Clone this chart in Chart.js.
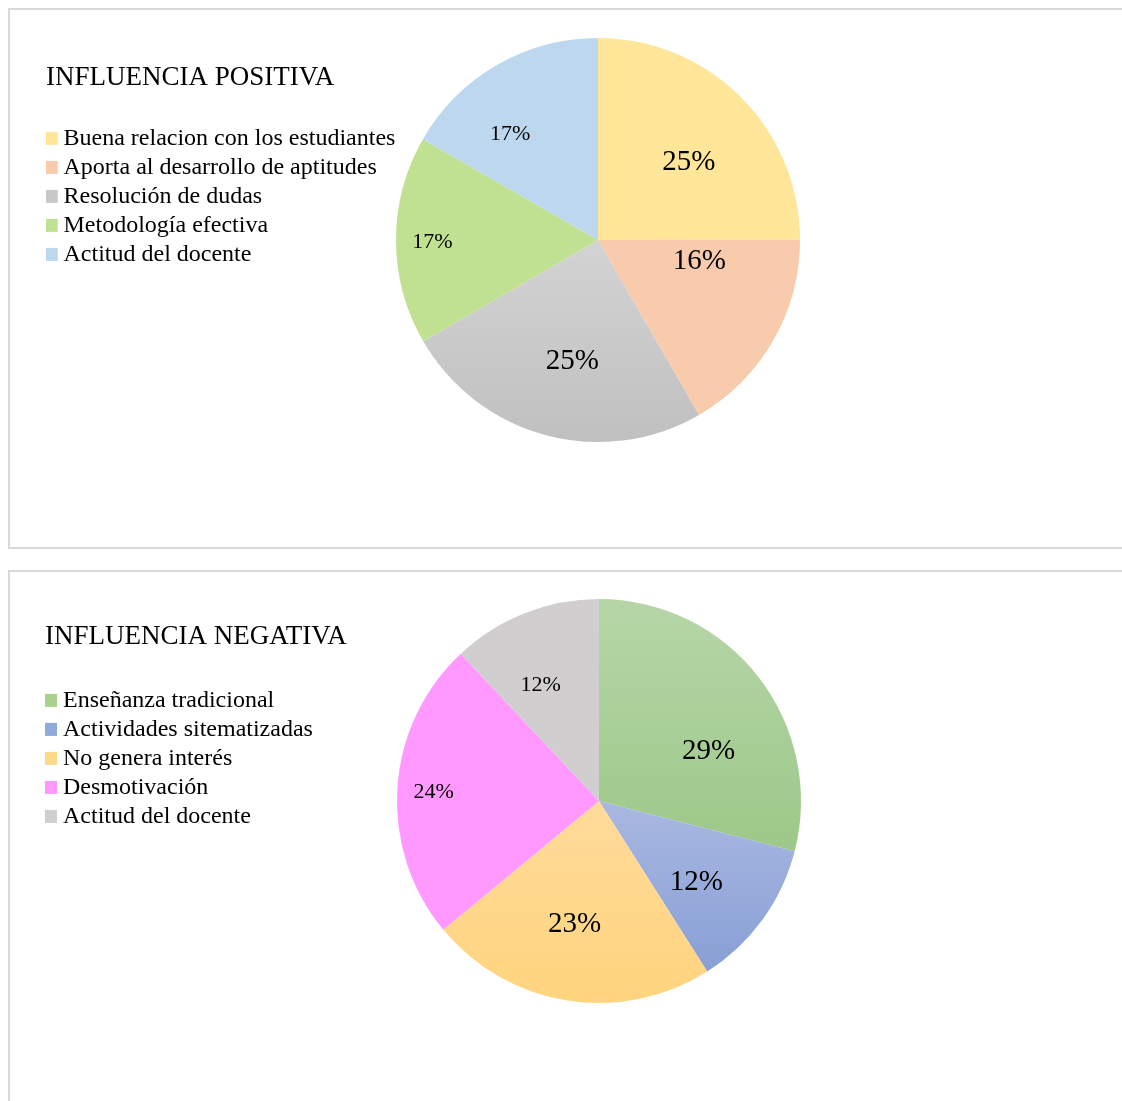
<!DOCTYPE html>
<html>
<head>
<meta charset="utf-8">
<script src="https://cdn.jsdelivr.net/npm/chart.js@4"></script>
<style>
  html, body { margin: 0; padding: 0; background: #ffffff; overflow: hidden; }
  #page { position: relative; width: 1122px; height: 1101px; overflow: hidden; background: #fff; }
  .panel { position: absolute; border: 2px solid #d9d9d9; box-sizing: border-box; background: #fff; }
  #panel1 { left: 8px; top: 8px; width: 1200px; height: 541px; }
  #panel2 { left: 8px; top: 570px; width: 1200px; height: 600px; }
  canvas { position: absolute; }
  #c1 { left: 0; top: 0; }
  #c2 { left: 0; top: 560px; }
</style>
</head>
<body>
<div id="page">
  <div class="panel" id="panel1"></div>
  <div class="panel" id="panel2"></div>
  <canvas id="c1" width="1200" height="560"></canvas>
  <canvas id="c2" width="1200" height="541"></canvas>
</div>
<script>
// ---------- DATA ----------
const posTitle = 'INFLUENCIA POSITIVA';
const posLabels = ['Buena relacion con los estudiantes', 'Aporta al desarrollo de aptitudes', 'Resolución de dudas', 'Metodología efectiva', 'Actitud del docente'];
const posValues = [25, 16.7, 25, 16.7, 16.7];
const posPercentText = ['25%', '16%', '25%', '17%', '17%'];

const negTitle = 'INFLUENCIA NEGATIVA';
const negLabels = ['Enseñanza tradicional', 'Actividades sitematizadas', 'No genera interés', 'Desmotivación', 'Actitud del docente'];
const negValues = [29, 12, 23, 24, 12];
const negPercentText = ['29%', '12%', '23%', '24%', '12%'];

// ---------- STYLES ----------
const posFill = [['#FFE699', '#FFE699'], ['#F8CBAD', '#F8CBAD'], ['#D3D3D3', '#C0C0C0'], ['#C0E191', '#C0E191'], ['#BDD7EE', '#BDD7EE']];
const posLegendFill = ['#FFE699', '#F8CBAD', '#C8C8C8', '#C0E191', '#BDD7EE'];
const negFill = [['#B6D6A7', '#9DC889'], ['#A9B8E0', '#889FD6'], ['#FFDB9A', '#FFD47E'], ['#FF99FF', '#FF99FF'], ['#D0CECE', '#D0CECE']];
const negLegendFill = ['#A9D18E', '#8FAADC', '#FFD98A', '#FF99FF', '#D0CECE'];

// label placement within each slice: fraction along the arc, fraction of radius, font size
const posLabelPos = [[0.54, 0.60, 29], [0.18, 0.51, 29], [0.47, 0.60, 29], [0.50, 0.82, 22], [0.35, 0.69, 22]];
const negLabelPos = [[0.62, 0.60, 29], [0.57, 0.62, 29], [0.53, 0.61, 29], [0.50, 0.82, 22], [0.39, 0.65, 22]];

const FONT = "'Liberation Serif', 'Times New Roman', serif";

function sliceGradient(ctx, fills, values) {
  const chart = ctx.chart;
  const area = chart.chartArea;
  const i = ctx.dataIndex;
  const pair = fills[i];
  if (!area || pair[0] === pair[1]) return pair[0];
  const cx = (area.left + area.right) / 2, cy = (area.top + area.bottom) / 2;
  const R = Math.min(area.right - area.left, area.bottom - area.top) / 2;
  const total = values.reduce((a, b) => a + b, 0);
  let cum = 0;
  for (let k = 0; k < i; k++) cum += values[k];
  const a0 = -Math.PI / 2 + 2 * Math.PI * cum / total;
  const a1 = a0 + 2 * Math.PI * values[i] / total;
  let ys = [cy, cy + R * Math.sin(a0), cy + R * Math.sin(a1)];
  const within = (a) => { for (let k = -2; k <= 2; k++) { const t = a + 2 * Math.PI * k; if (t >= a0 && t <= a1) return true; } return false; };
  if (within(-Math.PI / 2)) ys.push(cy - R);
  if (within(Math.PI / 2)) ys.push(cy + R);
  const y0 = Math.min(...ys), y1 = Math.max(...ys);
  const g = chart.ctx.createLinearGradient(0, y0, 0, y1);
  g.addColorStop(0, pair[0]);
  g.addColorStop(1, pair[1]);
  return g;
}

const pctLabels = {
  id: 'pctLabels',
  afterDatasetsDraw(chart, args, opts) {
    const meta = chart.getDatasetMeta(0);
    const ctx = chart.ctx;
    ctx.save();
    ctx.fillStyle = '#000';
    ctx.textAlign = 'center';
    ctx.textBaseline = 'middle';
    meta.data.forEach((arc, i) => {
      const p = arc.getProps(['x', 'y', 'startAngle', 'endAngle', 'outerRadius'], true);
      const cfg = opts.pos[i];
      const ang = p.startAngle + cfg[0] * (p.endAngle - p.startAngle);
      const r = cfg[1] * p.outerRadius;
      ctx.font = cfg[2] + 'px ' + FONT;
      ctx.fillText(opts.text[i], p.x + r * Math.cos(ang), p.y + r * Math.sin(ang) + cfg[2] * 0.09);
    });
    ctx.restore();
  }
};

function makePie(canvasId, title, labels, values, pctText, fills, legendFills, labelPos, padding, boxW, titlePad) {
  return new Chart(document.getElementById(canvasId), {
    type: 'pie',
    data: {
      labels: labels,
      datasets: [{
        data: values,
        backgroundColor: (ctx) => sliceGradient(ctx, fills, values),
        borderWidth: 0,
        hoverOffset: 0
      }]
    },
    options: {
      responsive: false,
      animation: false,
      devicePixelRatio: 1,
      events: [],
      layout: { padding: padding, autoPadding: false },
      plugins: {
        tooltip: { enabled: false },
        pctLabels: { pos: labelPos, text: pctText },
        legend: {
          position: 'chartArea',
          align: 'start',
          title: {
            display: true,
            text: title,
            position: 'start',
            color: '#000',
            font: { family: FONT, size: 27, lineHeight: 1.2 },
            padding: titlePad
          },
          labels: {
            color: '#000',
            font: { family: FONT, size: 24 },
            usePointStyle: true,
            pointStyle: 'rect',
            boxWidth: boxW,
            boxHeight: 13,
            padding: 5,
            generateLabels(chart) {
              const items = Chart.overrides.pie.plugins.legend.labels.generateLabels(chart);
              items.forEach((it, i) => { it.fillStyle = legendFills[i]; it.strokeStyle = legendFills[i]; it.lineWidth = 0; });
              return items;
            }
          }
        }
      }
    },
    plugins: [pctLabels]
  });
}

makePie('c1', posTitle, posLabels, posValues, posPercentText, posFill, posLegendFill, posLabelPos,
  { left: 46, top: 38, right: 50, bottom: 118 }, 0.5, { top: 64, bottom: 25 });
makePie('c2', negTitle, negLabels, negValues, negPercentText, negFill, negLegendFill, negLabelPos,
  { left: 45, top: 39, right: 47, bottom: 98 }, 1, { top: 63, bottom: 28 });
</script>
</body>
</html>
